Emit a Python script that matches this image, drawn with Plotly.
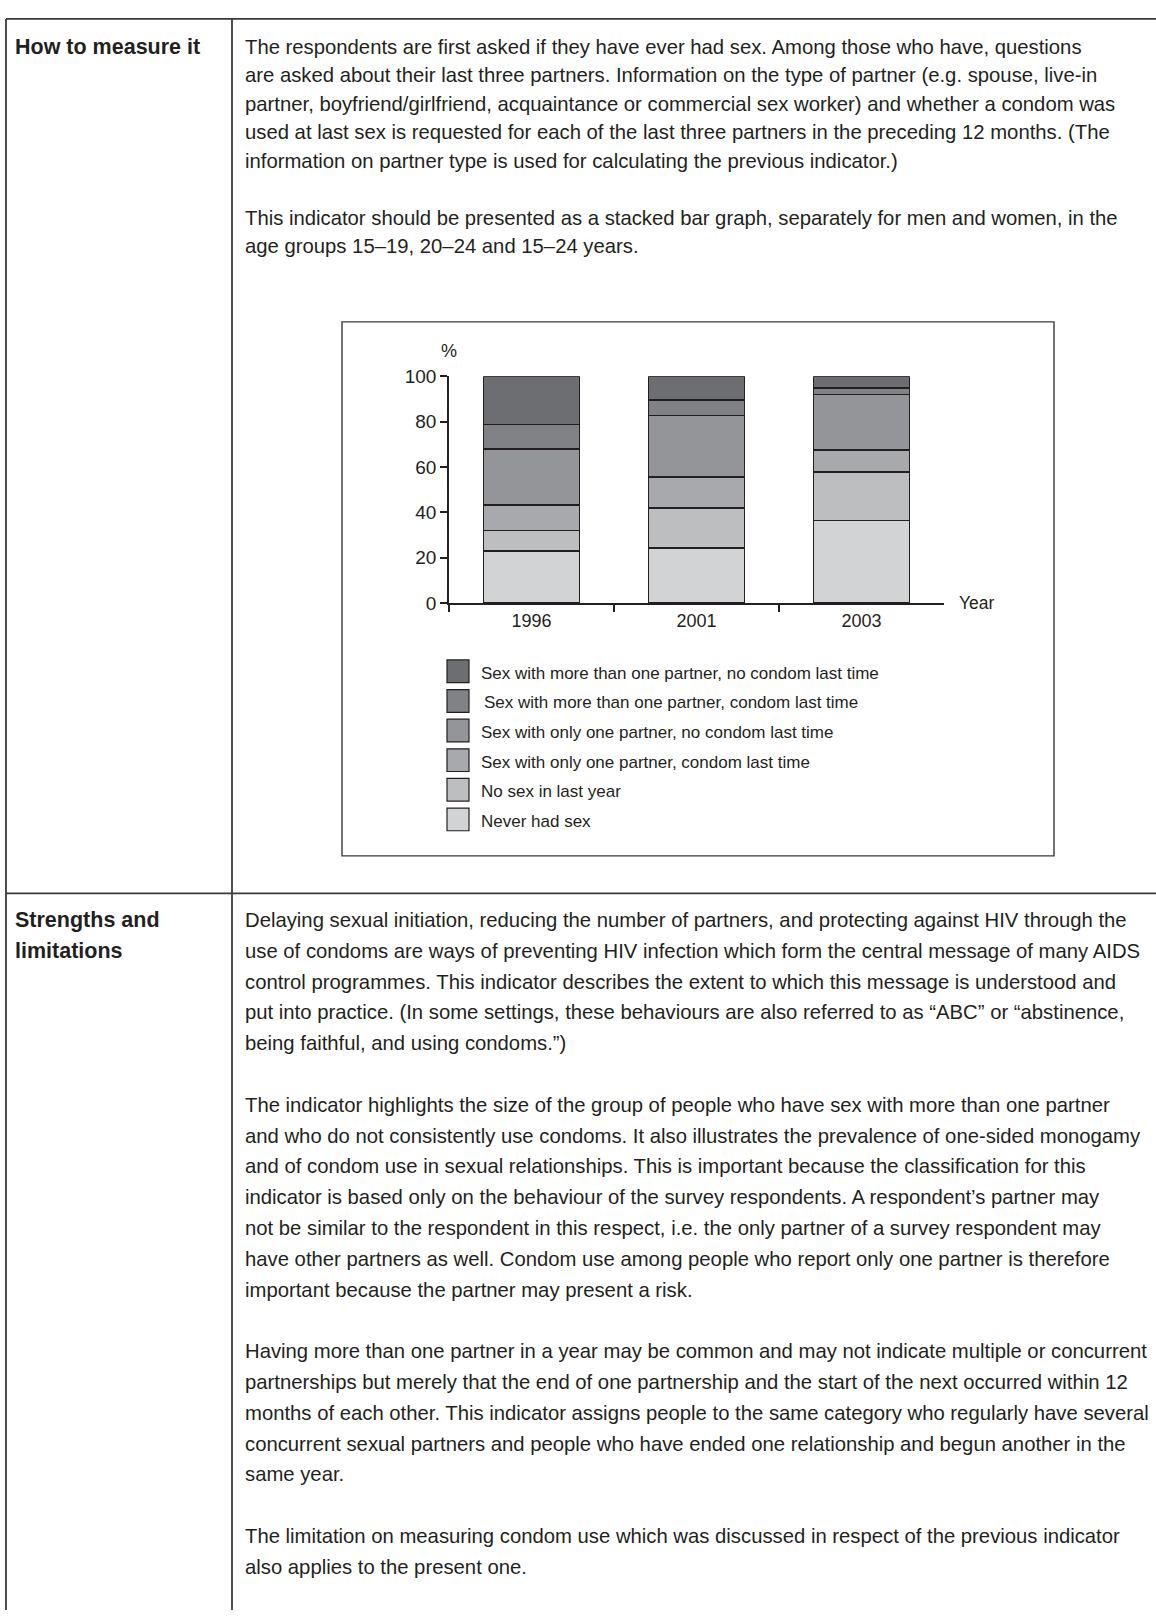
import plotly.graph_objects as go

W, H = 1156, 1621

# ---------------- data ----------------
years = ["1996", "2001", "2003"]
series_names = [
    "Never had sex",
    "No sex in last year",
    "Sex with only one partner, condom last time",
    "Sex with only one partner, no condom last time",
    "Sex with more than one partner, condom last time",
    "Sex with more than one partner, no condom last time",
]
never_had_sex = [22.9, 24.3, 36.5]
no_sex_last_year = [9.1, 17.6, 21.3]
one_partner_condom = [11.3, 13.7, 9.6]
one_partner_no_condom = [24.7, 27.1, 24.6]
multi_partner_condom = [10.7, 6.9, 2.8]
multi_partner_no_condom = [21.3, 10.4, 5.2]
series_values = [never_had_sex, no_sex_last_year, one_partner_condom,
                 one_partner_no_condom, multi_partner_condom, multi_partner_no_condom]
colors = ["#d1d3d4", "#bcbec0", "#a7a9ac", "#939598", "#808285", "#6d6e71"]
y_ticks = [0, 20, 40, 60, 80, 100]

label_how = "How to measure it"
label_strengths = ["Strengths and", "limitations"]
how_paragraphs = [
    ["The respondents are first asked if they have ever had sex. Among those who have, questions",
     "are asked about their last three partners. Information on the type of partner (e.g. spouse, live-in",
     "partner, boyfriend/girlfriend, acquaintance or commercial sex worker) and whether a condom was",
     "used at last sex is requested for each of the last three partners in the preceding 12 months. (The",
     "information on partner type is used for calculating the previous indicator.)"],
    ["This indicator should be presented as a stacked bar graph, separately for men and women, in the",
     "age groups 15–19, 20–24 and 15–24 years."],
]
strength_paragraphs = [
    ["Delaying sexual initiation, reducing the number of partners, and protecting against HIV through the",
     "use of condoms are ways of preventing HIV infection which form the central message of many AIDS",
     "control programmes. This indicator describes the extent to which this message is understood and",
     "put into practice. (In some settings, these behaviours are also referred to as “ABC” or “abstinence,",
     "being faithful, and using condoms.”)"],
    ["The indicator highlights the size of the group of people who have sex with more than one partner",
     "and who do not consistently use condoms. It also illustrates the prevalence of one-sided monogamy",
     "and of condom use in sexual relationships. This is important because the classification for this",
     "indicator is based only on the behaviour of the survey respondents. A respondent’s partner may",
     "not be similar to the respondent in this respect, i.e. the only partner of a survey respondent may",
     "have other partners as well. Condom use among people who report only one partner is therefore",
     "important because the partner may present a risk."],
    ["Having more than one partner in a year may be common and may not indicate multiple or concurrent",
     "partnerships but merely that the end of one partnership and the start of the next occurred within 12",
     "months of each other. This indicator assigns people to the same category who regularly have several",
     "concurrent sexual partners and people who have ended one relationship and begun another in the",
     "same year."],
    ["The limitation on measuring condom use which was discussed in respect of the previous indicator",
     "also applies to the present one."],
]

# ---------------- helpers (pixel -> paper) ----------------
def fx(x):
    return x / W

def fy(y):
    return 1 - y / H

INK = "#231f20"
RULE = "#3a3a3a"
FONT = "Liberation Sans, Arial, sans-serif"

fig = go.Figure()
for name, vals, col in zip(series_names, series_values, colors):
    fig.add_trace(go.Bar(
        x=years, y=vals, name=name, width=0.58,
        marker=dict(color=col, line=dict(color=INK, width=1.5)),
        showlegend=False, hoverinfo="skip",
    ))

shapes = []
annotations = []

shapes += [
    dict(type="line", xref="paper", yref="paper", x0=fx(6), x1=1.0, y0=fy(9), y1=fy(9),
         line=dict(color=RULE, width=1.8)),
    dict(type="line", xref="paper", yref="paper", x0=fx(6), x1=fx(6), y0=fy(9), y1=0,
         line=dict(color=RULE, width=1.8)),
    dict(type="line", xref="paper", yref="paper", x0=fx(232), x1=fx(232), y0=fy(9), y1=0,
         line=dict(color=RULE, width=1.8)),
    dict(type="line", xref="paper", yref="paper", x0=fx(6), x1=1.0, y0=fy(895), y1=fy(895),
         line=dict(color=RULE, width=1.8)),
    dict(type="rect", xref="paper", yref="paper", x0=fx(342), x1=fx(1054), y0=fy(857), y1=fy(316),
         line=dict(color=RULE, width=1.4), fillcolor="rgba(0,0,0,0)"),
]

def text(x, y, s, size=20, bold=False, xanchor="left", xshift=0):
    annotations.append(dict(
        xref="paper", yref="paper", x=fx(x), y=fy(y), text=("<b>%s</b>" % s) if bold else s,
        showarrow=False, xanchor=xanchor, yanchor="middle", align="left", xshift=xshift,
        font=dict(family=FONT, size=size, color=INK),
    ))

BODY = 20.3
LABEL = 21.5
TOP_STEP = 28.8
BOTTOM_STEP = 31.2

text(13, 37.5, label_how, size=LABEL, bold=True)
for i, s in enumerate(label_strengths):
    text(13, 922 + i * BOTTOM_STEP, s, size=LABEL, bold=True)

line = 0
for p in how_paragraphs:
    for s in p:
        text(243, 37.5 + line * TOP_STEP, s, size=BODY)
        line += 1
    line += 1

line = 0
for p in strength_paragraphs:
    for s in p:
        text(243, 922 + line * BOTTOM_STEP, s, size=BODY)
        line += 1
    line += 1

text(449, 345, "%", size=18, xanchor="center")
text(957, 601, "Year", size=17.5)

for k, idx in enumerate(reversed(range(len(series_names)))):
    c = 670 + k * 30
    shapes.append(dict(type="rect", xref="paper", yref="paper",
                       x0=fx(447), x1=fx(469), y0=fy(c + 11.5), y1=fy(c - 11.5),
                       fillcolor=colors[idx], line=dict(color=INK, width=1.2)))
    text(479, c + 2, series_names[idx], size=17, xshift=3 if k == 1 else 0)

fig.update_layout(
    width=W, height=H, margin=dict(l=0, r=0, t=0, b=0),
    paper_bgcolor="white", plot_bgcolor="white",
    barmode="stack",
    shapes=shapes, annotations=annotations,
    xaxis=dict(domain=[fx(449), fx(944)], type="category", range=[-0.5, 2.5],
               showline=True, linecolor=INK, linewidth=1.5,
               ticks="outside", tickson="boundaries", ticklen=7, tickwidth=1.5, tickcolor=INK,
               tickfont=dict(family=FONT, size=18, color=INK),
               showgrid=False, zeroline=False, fixedrange=True),
    yaxis=dict(domain=[fy(601), fy(371)], range=[0, 100], tickvals=y_ticks,
               showline=True, linecolor=INK, linewidth=1.5,
               ticks="outside", ticklen=7, tickwidth=1.5, tickcolor=INK,
               tickfont=dict(family=FONT, size=19, color=INK),
               showgrid=False, zeroline=False, fixedrange=True),
)

fig.write_html("out.html", config={"displayModeBar": False},
               post_script="document.body.style.margin='0px';")
